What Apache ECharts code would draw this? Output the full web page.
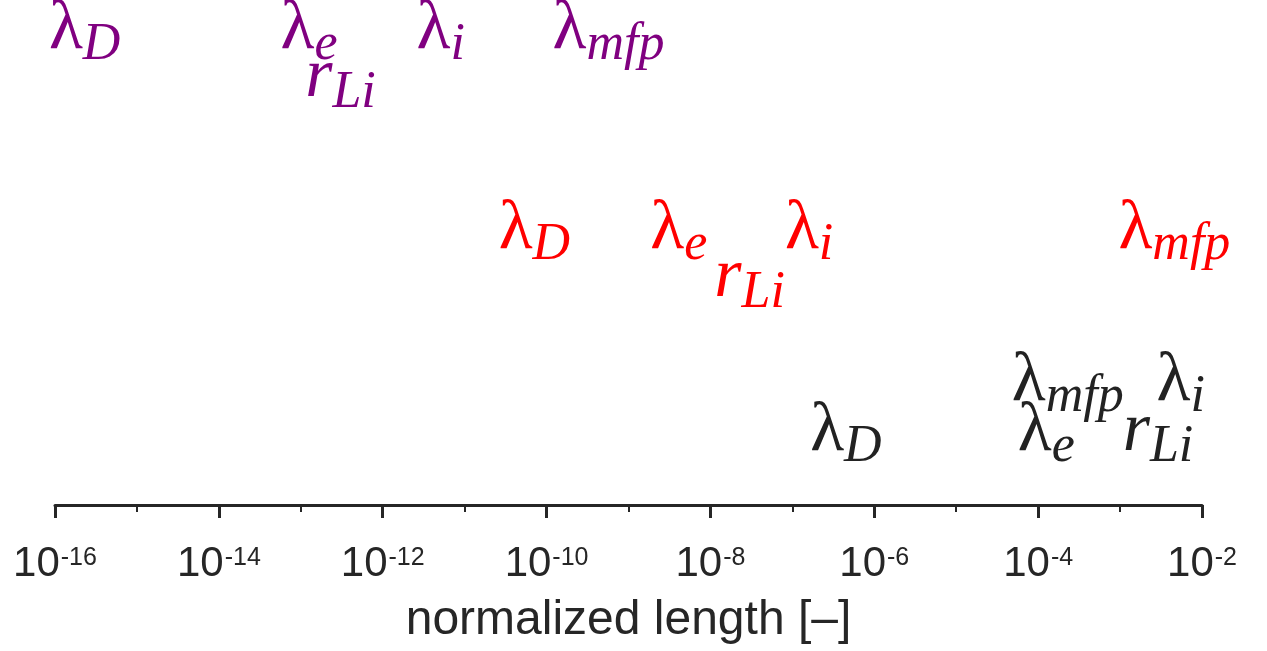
<!DOCTYPE html>
<html>
<head>
<meta charset="utf-8">
<style>
  html, body { margin: 0; padding: 0; background: #ffffff; }
  #chart { width: 1267px; height: 651px; }
</style>
<script src="https://cdn.jsdelivr.net/npm/echarts@6/dist/echarts.min.js"></script>
</head>
<body>
<div id="chart"></div>
<script>
// Characteristic lengths, written as symbol_subscript
const quantities = ['λ_D', 'λ_e', 'r_Li', 'λ_i', 'λ_mfp'];

// Normalized length of each quantity (horizontal position of the label centre)
const purpleLength = [2.3e-16, 1.26e-13, 3.05e-13, 5.1e-12, 5.7e-10];
const redLength    = [7.1e-11, 4.1e-9, 3.0e-8, 1.6e-7, 4.6e-3];
const blackLength  = [4.5e-7, 1.26e-4, 2.9e-3, 5.5e-3, 2.3e-4];

// Row of each label on a hidden 0-10 scale (centre of the main glyph)
const purpleLevel = [9.41, 9.41, 8.47, 9.41, 9.41];
const redLevel    = [5.45, 5.45, 4.5, 5.45, 5.45];
const blackLevel  = [1.46, 1.46, 1.46, 2.44, 2.44];

// Axis range and ticks
const axisMin = 1e-16;
const axisMax = 1e-2;
const majorStep = 2;   // decades between labelled ticks
const minorStep = 1;   // decades between small ticks
const axisTitle = 'normalized length [–]';

const axisColor = '#262626';

function rows(lengths, levels) {
  return quantities.map((q, i) => ({ value: [lengths[i], levels[i]], name: q }));
}

function labelText(name) {
  const parts = name.split('_');
  const baseStyle = parts[0] === 'r' ? 'ri' : 'g';
  return '{' + baseStyle + '|' + parts[0] + '}{s|' + parts[1] + '}';
}

const richMath = {
  g:  { fontFamily: 'Liberation Serif', fontSize: 70, lineHeight: 70 },
  ri: { fontFamily: 'Liberation Serif', fontStyle: 'italic', fontSize: 70, lineHeight: 70 },
  s:  { fontFamily: 'Liberation Serif', fontStyle: 'italic', fontSize: 52, lineHeight: 52,
        padding: [32, 0, 0, 0] }
};

function textSeries(name, data, color) {
  return {
    name: name,
    type: 'scatter',
    xAxisIndex: 0,
    yAxisIndex: 0,
    symbolSize: 0,
    silent: true,
    itemStyle: { opacity: 1 },
    data: data,
    label: {
      show: true,
      position: 'inside',
      color: color,
      opacity: 1,
      formatter: p => labelText(p.name),
      rich: richMath
    },
    emphasis: { disabled: true },
    labelLayout: { hideOverlap: false }
  };
}

const chart = echarts.init(document.getElementById('chart'), null, { renderer: 'canvas' });

chart.setOption({
  animation: false,
  backgroundColor: '#ffffff',
  grid: { left: 55, right: 65, top: 0, bottom: 146, containLabel: false },
  xAxis: [
    {
      type: 'log',
      logBase: 10,
      position: 'bottom',
      min: axisMin,
      max: axisMax,
      interval: majorStep,
      splitLine: { show: false },
      axisLine: { show: true, onZero: false, lineStyle: { color: axisColor, width: 3 } },
      axisTick: { show: true, length: 13, lineStyle: { color: axisColor, width: 3 } },
      axisLabel: {
        show: true,
        margin: 38,
        showMinLabel: true,
        showMaxLabel: true,
        color: axisColor,
        formatter: v => '{b|10}{e|' + Math.round(Math.log10(v)) + '}',
        rich: {
          b: { fontFamily: 'Liberation Sans', fontSize: 42, lineHeight: 42, color: axisColor },
          e: { fontFamily: 'Liberation Sans', fontSize: 25, lineHeight: 25, color: axisColor,
               padding: [0, 0, 12, 1] }
        }
      },
      name: axisTitle,
      nameLocation: 'middle',
      nameGap: 92,
      nameTextStyle: { fontFamily: 'Liberation Sans', fontSize: 48, color: axisColor }
    },
    {
      type: 'log',
      logBase: 10,
      position: 'bottom',
      min: axisMin,
      max: axisMax,
      interval: minorStep,
      splitLine: { show: false },
      axisLine: { show: false, onZero: false },
      axisTick: { show: true, length: 7, lineStyle: { color: axisColor, width: 2 } },
      axisLabel: { show: false }
    }
  ],
  yAxis: {
    type: 'value',
    min: 0,
    max: 10,
    show: false
  },
  series: [
    textSeries('set 1', rows(purpleLength, purpleLevel), '#800080'),
    textSeries('set 2', rows(redLength, redLevel), '#ff0000'),
    textSeries('set 3', rows(blackLength, blackLevel), '#222222')
  ]
});
</script>
</body>
</html>
